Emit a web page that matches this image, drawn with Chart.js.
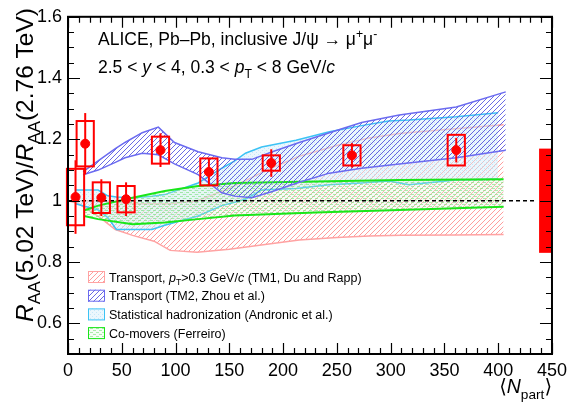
<!DOCTYPE html>
<html>
<head>
<meta charset="utf-8">
<script src="https://cdn.jsdelivr.net/npm/chart.js@4.4.0/dist/chart.umd.min.js"></script>
<style>
  body { margin: 0; background: #fff; }
</style>
</head>
<body>
<canvas id="myChart" width="573" height="410"></canvas>
<script>
const FONT = '"Liberation Sans", "DejaVu Sans", Arial, sans-serif';

// ALICE points
const npart = [7, 16, 31, 54, 86, 131, 189, 264, 361];
const ratio = [1.012, 1.186, 1.01, 1.005, 1.165, 1.094, 1.123, 1.148, 1.165];
const statErr = [0.12, 0.1, 0.06, 0.055, 0.055, 0.045, 0.045, 0.04, 0.04];
const systErr = [0.092, 0.074, 0.05, 0.043, 0.044, 0.044, 0.025, 0.033, 0.05];
const systHalfWidth = 8; // in Npart
const globalErr = 0.17;
const globalFrom = 438;

// TM1, Du and Rapp
const tm1N    = [0, 10, 28, 44, 60, 80, 95, 120, 150, 185, 215, 250, 280, 310, 360, 405];
const tm1Low  = [1.0, 0.99, 0.95, 0.906, 0.887, 0.868, 0.838, 0.832, 0.842, 0.858, 0.872, 0.88, 0.885, 0.887, 0.888, 0.89];
const tm1High = [1.0, 1.0, 1.0, 0.995, 0.99, 0.99, 0.99, 1.0, 1.04, 1.1, 1.145, 1.18, 1.205, 1.22, 1.235, 1.248];

// TM2, Zhou et al.
const tm2N    = [14, 28, 44, 53, 69, 84, 99, 121, 143, 155, 171, 190, 215, 243, 273, 308, 361, 407];
const tm2Low  = [1.085, 1.10, 1.125, 1.14, 1.155, 1.15, 1.12, 1.085, 1.026, 1.015, 1.01, 1.03, 1.06, 1.09, 1.106, 1.12, 1.14, 1.165];
const tm2High = [1.095, 1.13, 1.17, 1.19, 1.222, 1.24, 1.19, 1.16, 1.14, 1.135, 1.135, 1.16, 1.19, 1.222, 1.255, 1.28, 1.306, 1.355];

// statistical hadronization, Andronic et al.
const shmN    = [7, 28, 37, 45, 60, 78, 90, 121, 143, 155, 165, 180, 212, 243, 273, 298, 317, 361, 400];
const shmLow  = [0.99, 0.97, 0.945, 0.906, 0.906, 0.906, 0.92, 0.95, 0.984, 0.995, 1.005, 1.035, 1.04, 1.052, 1.058, 1.064, 1.052, 1.068, 1.07];
const shmHigh = [1.035, 1.035, 1.016, 1.012, 1.01, 1.015, 1.02, 1.058, 1.106, 1.13, 1.155, 1.175, 1.197, 1.225, 1.245, 1.26, 1.263, 1.274, 1.287];

// co-movers, Ferreiro
const comN    = [15, 28, 60, 90, 121, 155, 230, 308, 405];
const comLow  = [0.95, 0.94, 0.923, 0.929, 0.94, 0.952, 0.962, 0.97, 0.98];
const comHigh = [0.968, 0.984, 1.01, 1.032, 1.048, 1.058, 1.063, 1.068, 1.07];

const xTicks = [0, 50, 100, 150, 200, 250, 300, 350, 400, 450];
const yTicks = [0.6, 0.8, 1, 1.2, 1.4, 1.6];

const legendLabels = [
  [{t: 'Transport, '}, {t: 'p', it: 1}, {t: 'T', sub: 1}, {t: '>0.3 GeV/'}, {t: 'c', it: 1}, {t: ' (TM1, Du and Rapp)'}],
  [{t: 'Transport (TM2, Zhou et al.)'}],
  [{t: 'Statistical hadronization (Andronic et al.)'}],
  [{t: 'Co-movers (Ferreiro)'}]
];

const ctx = document.getElementById('myChart').getContext('2d');

const pts = (xs, ys) => xs.map((x, i) => ({x: x, y: ys[i]}));

function hatch(color, size) {
  const c = document.createElement('canvas');
  c.width = size; c.height = size;
  const g = c.getContext('2d');
  g.strokeStyle = color;
  g.lineWidth = 1;
  g.beginPath();
  g.moveTo(0, size); g.lineTo(size, 0);
  g.moveTo(-1, 1); g.lineTo(1, -1);
  g.moveTo(size - 1, size + 1); g.lineTo(size + 1, size - 1);
  g.stroke();
  return ctx.createPattern(c, 'repeat');
}

function dots(color, bg, w, h, dw) {
  const c = document.createElement('canvas');
  c.width = w; c.height = h;
  const g = c.getContext('2d');
  g.fillStyle = bg;
  g.fillRect(0, 0, w, h);
  g.fillStyle = color;
  g.fillRect(0, 0, dw, 1);
  g.fillRect(w / 2, h / 2, dw, 1);
  return ctx.createPattern(c, 'repeat');
}

const colors = {
  tm1: '#ffa3a3', tm1Fill: hatch('rgba(255,140,140,0.85)', 5),
  tm2: '#6b6bf0', tm2Fill: hatch('rgba(90,90,225,0.9)', 5),
  shm: '#3cc3f5', shmFill: dots('rgba(165,220,245,0.55)', 'rgba(210,238,250,0.45)', 4, 4, 1),
  com: '#19e619', comFill: dots('rgba(120,225,120,0.6)', 'rgba(215,248,215,0.25)', 6, 4, 3)
};

const line = (data, color, order, extra) => Object.assign({
  type: 'line', data: data, borderColor: color, borderWidth: 1.5,
  pointRadius: 0, fill: false, tension: 0, order: order
}, extra || {});

const datasets = [
  {type: 'scatter', data: pts(npart, ratio), backgroundColor: '#ff0000', borderColor: '#ff0000',
   pointRadius: 4.5, order: 0},
  line([{x: 0, y: 1}, {x: 436, y: 1}], '#000', 5, {borderDash: [4, 3], borderWidth: 1.5}),
  line(pts(tm2N, tm2Low), colors.tm2, 10),
  line(pts(tm2N, tm2High), colors.tm2, 10, {fill: {target: 2}, backgroundColor: colors.tm2Fill}),
  line(pts(comN, comLow), colors.com, 20, {borderWidth: 2}),
  line(pts(comN, comHigh), colors.com, 20, {borderWidth: 2, fill: {target: 4}, backgroundColor: colors.comFill}),
  line(pts(shmN, shmLow), colors.shm, 30),
  line(pts(shmN, shmHigh), colors.shm, 30, {fill: {target: 6}, backgroundColor: colors.shmFill}),
  line(pts(tm1N, tm1Low), colors.tm1, 40),
  line(pts(tm1N, tm1High), colors.tm1, 40, {fill: {target: 8}, backgroundColor: colors.tm1Fill})
];

function rich(c, segs, x, y, size, align) {
  const parts = segs.map(s => {
    const sz = (s.sub || s.sup) ? size * 0.7 : size;
    const font = (s.it ? 'italic ' : '') + sz + 'px ' + FONT;
    c.font = font;
    return {t: s.t, font: font, w: c.measureText(s.t).width,
            dy: s.sub ? size * 0.3 : (s.sup ? -size * 0.4 : 0)};
  });
  const total = parts.reduce((a, p) => a + p.w, 0);
  let cx = align === 'right' ? x - total : (align === 'center' ? x - total / 2 : x);
  parts.forEach(p => { c.font = p.font; c.fillText(p.t, cx, y + p.dy); cx += p.w; });
}

const errors = {
  id: 'errors',
  afterDatasetsDraw(chart) {
    const {ctx: c, scales: {x, y}, chartArea: a} = chart;
    c.save();
    c.strokeStyle = '#ff0000';
    c.lineWidth = 2;
    npart.forEach((n, i) => {
      const px = x.getPixelForValue(n);
      c.beginPath();
      c.moveTo(px, y.getPixelForValue(ratio[i] - statErr[i]));
      c.lineTo(px, y.getPixelForValue(ratio[i] + statErr[i]));
      c.stroke();
      const l = x.getPixelForValue(n - systHalfWidth), r = x.getPixelForValue(n + systHalfWidth);
      const t = y.getPixelForValue(ratio[i] + systErr[i]), b = y.getPixelForValue(ratio[i] - systErr[i]);
      c.strokeRect(l, t, r - l, b - t);
    });
    c.fillStyle = '#ff0000';
    const gl = x.getPixelForValue(globalFrom);
    const gt = y.getPixelForValue(1 + globalErr), gb = y.getPixelForValue(1 - globalErr);
    c.fillRect(gl, gt, a.right - gl, gb - gt);
    c.restore();
  }
};

const frame = {
  id: 'frame',
  afterDraw(chart) {
    const {ctx: c, chartArea: a, scales: {x, y}} = chart;
    c.save();
    c.strokeStyle = '#000';
    c.lineWidth = 1.2;
    c.beginPath();
    for (let i = 0; i <= 45; i++) {
      const px = Math.round(x.getPixelForValue(i * 10)) + 0.5;
      const len = i % 5 === 0 ? 11 : 6;
      c.moveTo(px, a.bottom); c.lineTo(px, a.bottom - len);
      c.moveTo(px, a.top); c.lineTo(px, a.top + len);
    }
    for (let i = 0; i <= 22; i++) {
      const py = Math.round(y.getPixelForValue(0.5 + i * 0.05)) + 0.5;
      const len = (i - 2) % 4 === 0 ? 12 : 6;
      c.moveTo(a.left, py); c.lineTo(a.left + len, py);
      c.moveTo(a.right, py); c.lineTo(a.right - len, py);
    }
    c.stroke();
    c.lineWidth = 2;
    c.strokeRect(a.left, a.top, a.right - a.left, a.bottom - a.top);

    // texts
    c.fillStyle = '#000';
    c.textBaseline = 'alphabetic';
    rich(c, [{t: 'ALICE, Pb–Pb, inclusive J/ψ → μ'}, {t: '+', sup: 1}, {t: 'μ'}, {t: '-', sup: 1}], 98, 45, 17.5, 'left');
    rich(c, [{t: '2.5 < '}, {t: 'y', it: 1}, {t: ' < 4, 0.3 < '}, {t: 'p', it: 1}, {t: 'T', sub: 1},
             {t: ' < 8 GeV/'}, {t: 'c', it: 1}], 98, 73, 17.5, 'left');

    rich(c, [{t: '⟨'}, {t: 'N', it: 1}, {t: 'part', sub: 1}, {t: '⟩'}], a.right, 393, 19.5, 'right');

    c.save();
    c.translate(33, 165);
    c.rotate(-Math.PI / 2);
    rich(c, [{t: 'R', it: 1}, {t: 'AA', sub: 1}, {t: '(5.02 TeV)/'}, {t: 'R', it: 1}, {t: 'AA', sub: 1},
             {t: '(2.76 TeV)'}], 0, 0, 24.5, 'center');
    c.restore();

    // legend
    const fills = [[colors.tm1Fill, colors.tm1], [colors.tm2Fill, colors.tm2],
                   [colors.shmFill, colors.shm], [colors.comFill, colors.com]];
    legendLabels.forEach((segs, i) => {
      const cy = 277 + i * 18.7;
      c.fillStyle = fills[i][0];
      c.fillRect(88, cy - 6, 17, 12);
      c.strokeStyle = fills[i][1];
      c.lineWidth = 1;
      c.strokeRect(88.5, cy - 5.5, 16, 11);
      c.fillStyle = '#000';
      rich(c, segs, 109, cy + 4.5, 12.5, 'left');
    });
    c.restore();
  }
};

const myChart = new Chart(ctx, {
  type: 'scatter',
  data: {datasets: datasets},
  plugins: [errors, frame],
  options: {
    responsive: false,
    animation: false,
    layout: {padding: {left: 0, right: 18, top: 12, bottom: 0}},
    plugins: {legend: {display: false}, tooltip: {enabled: false}},
    scales: {
      x: {
        type: 'linear', min: 0, max: 450,
        afterBuildTicks: s => { s.ticks = xTicks.map(v => ({value: v})); },
        afterFit: s => { s.height = 56; },
        grid: {display: false, drawTicks: false},
        border: {display: false},
        ticks: {color: '#000', padding: 6, maxRotation: 0, font: {family: FONT, size: 18}}
      },
      y: {
        type: 'linear', min: 0.5, max: 1.6,
        afterBuildTicks: s => { s.ticks = yTicks.map(v => ({value: v})); },
        afterFit: s => { s.width = 68; },
        grid: {display: false, drawTicks: false},
        border: {display: false},
        ticks: {color: '#000', padding: 6, font: {family: FONT, size: 18},
                callback: v => String(+v.toFixed(1))}
      }
    }
  }
});
</script>
</body>
</html>
